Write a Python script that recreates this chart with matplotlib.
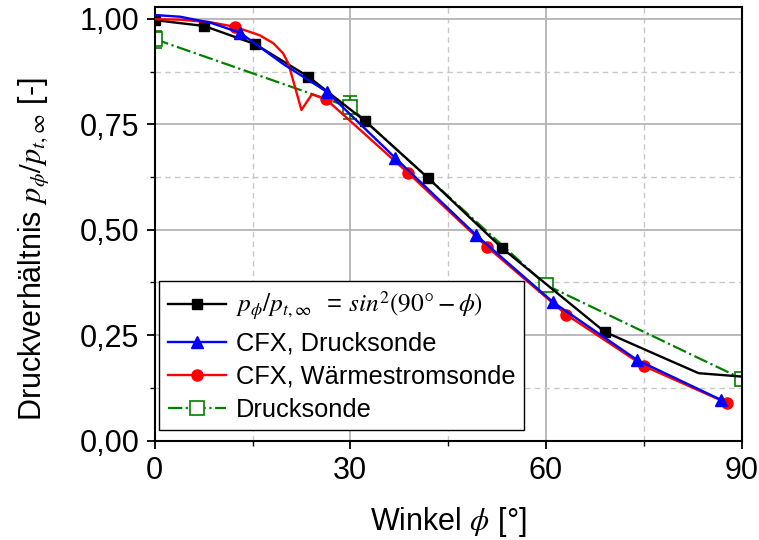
import matplotlib.pyplot as plt
from matplotlib.ticker import MultipleLocator, FuncFormatter

plt.rcParams['font.family'] = ['Liberation Sans', 'DejaVu Sans']
plt.rcParams['mathtext.fontset'] = 'stix'

# analytische Loesung sin^2(90 - phi)
ana_phi = [0, 7.6, 15.4, 23.55, 32.25, 41.9, 53.3, 69.0, 77.5, 83.4, 90]
ana_p = [0.997, 0.983, 0.940, 0.863, 0.758, 0.623, 0.456, 0.258, 0.200, 0.160, 0.152]
ana_marks = [0, 1, 2, 3, 4, 5, 6, 7]

# CFX, Drucksonde
cfx_d_phi = [0, 3.9, 8.5, 13.1, 19.7, 26.4, 36.9, 49.3, 61.1, 74.0, 86.8]
cfx_d_p = [1.009, 1.005, 0.991, 0.967, 0.893, 0.827, 0.670, 0.487, 0.328, 0.191, 0.097]
cfx_d_marks = [3, 5, 6, 7, 8, 9, 10]

# CFX, Waermestromsonde
cfx_w_phi = [0, 3.9, 8.5, 12.3, 16.1, 18.2, 19.7, 20.5, 22.5, 24.1, 26.3,
             38.9, 51.0, 63.1, 75.0, 87.8]
cfx_w_p = [0.999, 0.998, 0.992, 0.981, 0.961, 0.942, 0.918, 0.894, 0.784, 0.821, 0.809,
           0.634, 0.459, 0.299, 0.177, 0.089]
cfx_w_marks = [3, 10, 11, 12, 13, 14, 15]

# Messung Drucksonde
mess_phi = [0, 30, 60, 90]
mess_p = [0.952, 0.790, 0.369, 0.147]
mess_err = [0.02, 0.027, 0.01, 0.01]

fig = plt.figure(figsize=(7.59, 5.4), dpi=100)
ax = fig.add_axes([0.2038, 0.1839, 0.7734, 0.8031])

ax.errorbar(mess_phi, mess_p, yerr=mess_err, fmt='none', ecolor='#008000',
            elinewidth=1.2, capsize=5, capthick=1.2, zorder=2)
ax.plot(mess_phi, mess_p, '-.', color='#008000', lw=1.6, marker='s', ms=10,
        mfc='white', mec='#008000', mew=1.2, label='Drucksonde', zorder=2)
ax.plot(ana_phi, ana_p, '-', color='black', lw=1.7, marker='s', ms=7,
        markevery=ana_marks, label=r'$p_\phi/p_{t,\infty}$  = $sin^2(90°-\phi)$', zorder=3)
ax.plot(cfx_w_phi, cfx_w_p, '-', color='red', lw=1.7, marker='o', ms=8,
        markevery=cfx_w_marks, label='CFX, Wärmestromsonde', zorder=4)
ax.plot(cfx_d_phi, cfx_d_p, '-', color='blue', lw=1.7, marker='^', ms=9,
        markevery=cfx_d_marks, label='CFX, Drucksonde', zorder=5)

ax.set_xlim(0, 90)
ax.set_ylim(0, 1.028)
ax.xaxis.set_major_locator(MultipleLocator(30))
ax.xaxis.set_minor_locator(MultipleLocator(15))
ax.yaxis.set_major_locator(MultipleLocator(0.25))
ax.yaxis.set_minor_locator(MultipleLocator(0.125))
ax.yaxis.set_major_formatter(FuncFormatter(lambda v, _: f'{v:.2f}'.replace('.', ',')))

ax.grid(which='major', color='#b4b4b4', lw=1.3, ls='-')
ax.grid(which='minor', color='#c8c8c8', lw=1.0, ls=(0, (4, 3)))
ax.set_axisbelow(True)

for s in ax.spines.values():
    s.set_linewidth(1.5)
ax.tick_params(which='major', direction='out', length=6, width=1.3, labelsize=22, pad=5)
ax.tick_params(which='minor', direction='out', length=3.5, width=1.0)

ax.set_xlabel(r'Winkel $\phi$ [°]', fontsize=22, labelpad=14)
ax.set_ylabel(r'Druckverhältnis $p_\phi/p_{t,\infty}$ [-]', fontsize=22)
ax.yaxis.set_label_coords(-0.175, 0.442)

handles, labels = ax.get_legend_handles_labels()
order = [1, 3, 2, 0]
leg = ax.legend([handles[i] for i in order], [labels[i] for i in order],
                loc='lower left', bbox_to_anchor=(0.008, 0.025), borderaxespad=0,
                fontsize=18.3, fancybox=False, framealpha=1, edgecolor='black',
                handlelength=2.3, handletextpad=0.4, labelspacing=0.36,
                borderpad=0.32)
leg.get_frame().set_linewidth(1.0)

fig.savefig('out.png', dpi=100)
